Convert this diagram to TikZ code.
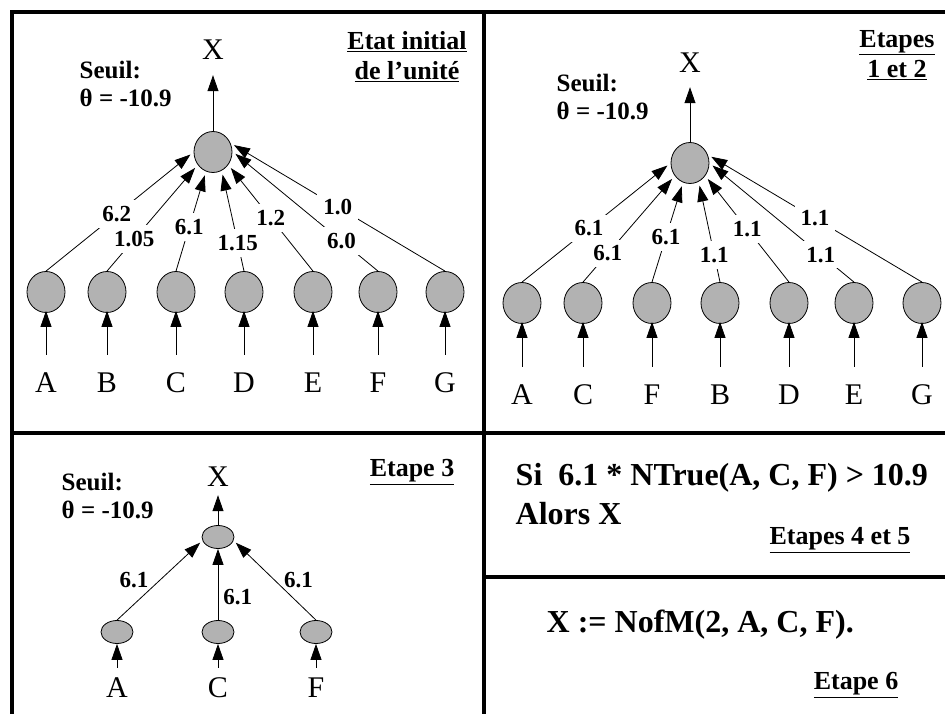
\documentclass[tikz,border=0pt]{standalone}
\usepackage{fontspec}
\setmainfont{Liberation Serif}
\usetikzlibrary{arrows.meta,shapes.geometric}

\begin{document}
\begin{tikzpicture}[x=1pt,y=-1pt,line width=0.8pt,
  neuron/.style={ellipse,draw,fill=black!30,inner sep=0pt,minimum width=38pt,minimum height=41pt},
  flat neuron/.style={neuron,minimum width=32pt,minimum height=23pt},
  link/.style={-{Triangle[length=16pt,width=11pt]}},
  weight/.style={font=\fontsize{23}{24}\selectfont\bfseries,inner sep=3pt},
  cut/.style={weight,fill=white,inner sep=6pt},
  input/.style={font=\fontsize{30}{32}\selectfont,inner sep=2pt},
  seuil/.style={anchor=west,align=left,font=\fontsize{25}{28}\selectfont\bfseries},
  etape/.style={align=center,font=\fontsize{26}{30}\selectfont\bfseries},
  regle/.style={anchor=west,align=left,font=\fontsize{32}{39}\selectfont\bfseries},
  frame/.style={line width=4pt}]
\useasboundingbox (0,0) rectangle (945,714);

% cadres
\draw[frame] (12,714) -- (12,12) -- (945,12);
\draw[frame] (484,12) -- (484,714);
\draw[frame] (12,433) -- (945,433);
\draw[frame] (484,577) -- (945,577);

% etat initial
\node[neuron] (h1) at (213,152) {};
\node[input] (x1) at (213,50) {X};
\draw[link,shorten >=13pt] (h1) -- (h1 |- x1.south);
\node[seuil] (s1) at (76,84) {Seuil:\\θ = -10.9};
\node[etape] (t1) at (407,57) {\underline{Etat initial}\\\underline{de l’unité}};
\foreach \n/\x/\a/\w/\p in {A/46/180/6.2/0.48, B/107/220/1.05/0.3, C/176/250/6.1/0.44, D/244/295/1.15/0.28,
                            E/313/320/1.2/0.5, F/378/2/6.0/0.25, G/445/27/1.0/0.5}
{
  \node[neuron] (a\n) at (\x,292) {};
  \node[input] (la\n) at (\x,383) {\n};
  \draw[link,shorten <=16pt,shorten >=-2pt] (la\n) -- (a\n);
  \draw[link,shorten >=4pt] (a\n.north) -- (h1.\a) node[cut,pos=\p] {\w};
}

% etapes 1 et 2
\node[neuron] (h2) at (690,163) {};
\node[input] (x2) at (690,63) {X};
\draw[link,shorten >=12pt] (h2) -- (h2 |- x2.south);
\node[seuil] (s2) at (553,97) {Seuil:\\θ = -10.9};
\node[etape] (t2) at (897,55) {\underline{Etapes}\\\underline{1 et 2}};
\foreach \n/\x/\a/\w/\p in {A/522/180/6.1/0.45, C/583/220/6.1/0.27, F/652/250/6.1/0.45, B/720/295/1.1/0.27,
                            D/789/320/1.1/0.5, E/854/0/1.1/0.23, G/922/25/1.1/0.5}
{
  \node[neuron] (b\n) at (\x,303) {};
  \node[input] (lb\n) at (\x,395) {\n};
  \draw[link,shorten <=16pt,shorten >=-2pt] (lb\n) -- (b\n);
  \draw[link,shorten >=4pt] (b\n.north) -- (h2.\a) node[cut,pos=\p] {\w};
}

% etape 3
\node[flat neuron] (h3) at (218,537) {};
\node[input] (x3) at (218,477) {X};
\draw[link,shorten >=6pt] (h3) -- (h3 |- x3.south);
\node[seuil] (s3) at (58,496) {Seuil:\\θ = -10.9};
\node[etape] (t3) at (412,472) {\underline{Etape 3}};
\foreach \n/\x in {A/117, C/218, F/316}
{
  \node[flat neuron] (c\n) at (\x,632) {};
  \node[input] (lc\n) at (\x,688) {\n};
  \draw[link,shorten <=8pt] (lc\n) -- (c\n);
}
\draw[link,shorten >=3pt] (cA.north) -- (h3.193) node[weight,midway,left=8pt] {6.1};
\draw[link] (cC) -- (h3) node[weight,pos=0.32,right=2pt] {6.1};
\draw[link,shorten >=3pt] (cF.north) -- (h3.347) node[weight,midway,right=6pt] {6.1};

% etapes 4 a 6
\node[regle] (r4) at (512,494) {Si\ \ 6.1 * NTrue(A, C, F) > 10.9\\Alors X};
\node[etape] (t4) at (840,540) {\underline{Etapes 4 et 5}};
\node[regle] (r6) at (543,625) {X := NofM(2, A, C, F).};
\node[etape] (t6) at (856,685) {\underline{Etape 6}};
\end{tikzpicture}
\end{document}
